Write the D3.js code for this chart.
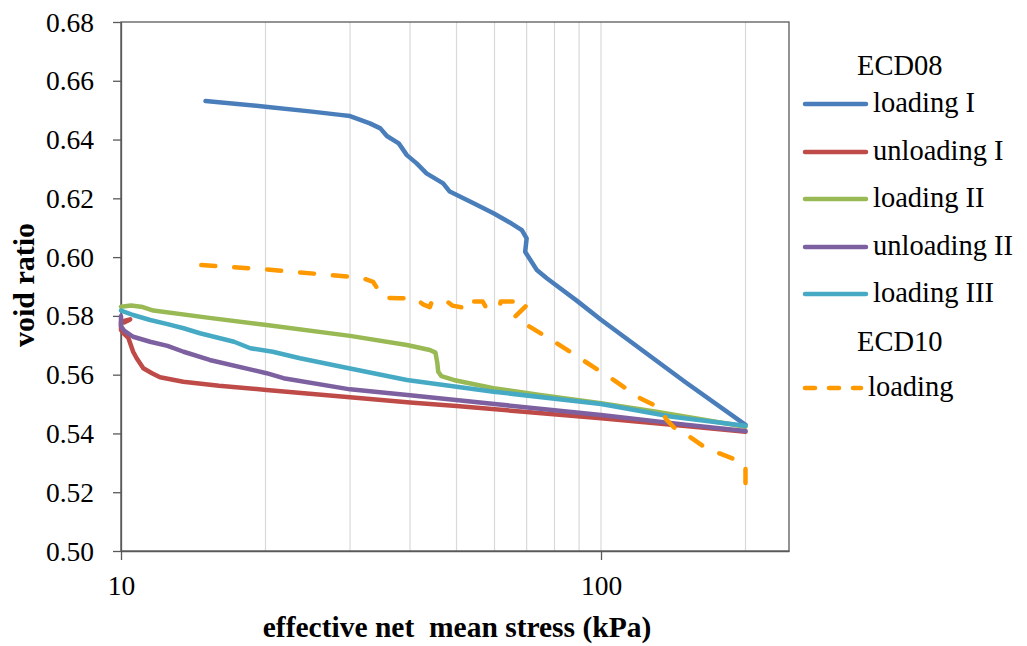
<!DOCTYPE html>
<html><head><meta charset="utf-8">
<script src="https://cdn.jsdelivr.net/npm/d3@7"></script>
<style>body{margin:0;background:#fff}svg{display:block}svg text{font-family:"Liberation Serif","Times New Roman",serif !important;fill:#000}</style>
</head><body><svg id="c" width="1027" height="646"></svg>
<script>
const yTicks = [0.50,0.52,0.54,0.56,0.58,0.60,0.62,0.64,0.66,0.68];
const xTickLabels = [10,100];
const xGrid = [10,20,30,40,50,60,70,80,90,100,200];
const seriesNames = ["loading I","unloading I","loading II","unloading II","loading III","loading"];
const groupNames = ["ECD08","ECD10"];
const colors = ["#4A7EBB","#BE4B48","#98B954","#7D60A0","#46AAC5","#FF9900"];

const loadingI = [[15,0.6531],[20,0.6512],[25,0.6495],[28.6,0.6484],[30,0.6480],[33,0.6455],[34.7,0.6438],[35.8,0.6412],[37.9,0.6387],[39.4,0.6347],[41.3,0.6319],[43.3,0.6285],[46.9,0.6251],[48.4,0.6223],[54,0.6185],[59.7,0.6149],[65,0.6115],[68.4,0.6092],[70.0,0.6064],[69.5,0.6018],[73.5,0.5956],[77.1,0.5928],[79.6,0.5911],[89.0,0.5852],[100,0.5787],[150,0.5574],[200,0.5429]];
const unloadingI = [[200,0.5406],[150,0.5425],[100,0.5452],[70,0.5473],[50,0.5493],[40,0.5505],[30,0.5523],[20.1,0.5548],[16,0.5562],[13.48,0.5576],[12.06,0.5591],[11.6,0.5605],[11.13,0.5622],[10.78,0.5656],[10.6,0.5678],[10.36,0.5725],[10.1,0.5742],[10,0.5752],[10,0.5780],[10.45,0.5788],[10.15,0.5778]];
const loadingII = [[10,0.5831],[10.5,0.5835],[11.1,0.5830],[11.68,0.5818],[15,0.5795],[20.1,0.5769],[30,0.5732],[39.4,0.5701],[44.0,0.5684],[45.2,0.5675],[45.6,0.5640],[45.8,0.5610],[46.5,0.5595],[49.3,0.5582],[59.7,0.5554],[74.6,0.5531],[100,0.5503],[130.4,0.5474],[200,0.5423]];
const unloadingII = [[200,0.5408],[150,0.5430],[100,0.5463],[60,0.5500],[40,0.5530],[30,0.5550],[21.8,0.5588],[20.1,0.5605],[15.3,0.5650],[13.5,0.5678],[12.5,0.5698],[11.5,0.5712],[10.6,0.5729],[10.15,0.5750],[10,0.5765],[10,0.5800]];
const loadingIII = [[10,0.5818],[10.6,0.5803],[11.5,0.5786],[12.5,0.5772],[13.5,0.5758],[14.6,0.5741],[17.2,0.5712],[18.6,0.5690],[20.7,0.5678],[23.6,0.5656],[30,0.5621],[39.4,0.5582],[59.7,0.5542],[100,0.5500],[140.7,0.5457],[200,0.5426]];
const ecd10Loading = [[14.7,0.5973],[20.1,0.5958],[30,0.5933],[31.5,0.5931],[33.5,0.5916],[34.3,0.5890],[35.2,0.5862],[38.1,0.5860],[41.0,0.5860],[42.7,0.5838],[44.0,0.5830],[44.4,0.5849],[47.8,0.5849],[49.0,0.5835],[52.4,0.5826],[52.6,0.5849],[56.7,0.5849],[57.4,0.5833],[61.4,0.5826],[61.8,0.5849],[66.2,0.5849],[67.8,0.5840],[70.4,0.5840],[66.0,0.5795],[80.9,0.5707],[106.2,0.5582],[120.6,0.5520],[132.8,0.5486],[137.0,0.5446],[143.6,0.5412],[152.9,0.5389],[165.5,0.5350],[176.6,0.5332],[191.3,0.5310],[200,0.5293],[200,0.5220]];
const allSeries = [loadingI,unloadingI,loadingII,unloadingII,loadingIII,ecd10Loading];

const L=121, R=789, T=22, B=551;
const FONT = "Liberation Serif, Times New Roman, serif";
const svg = d3.select("#c");
const x = d3.scaleLog().domain([10,246.4]).range([L,R]);
const y = d3.scaleLinear().domain([0.50,0.68]).range([B,T]);

// gridlines
svg.append("g").selectAll("line").data(xGrid).join("line")
  .attr("x1",d=>x(d)).attr("x2",d=>x(d)).attr("y1",T).attr("y2",B)
  .attr("stroke","#D9D9D9").attr("stroke-width",1.2);

// plot border
svg.append("rect").attr("x",L).attr("y",T).attr("width",R-L).attr("height",B-T)
  .attr("fill","none").attr("stroke","#595959").attr("stroke-width",1.3);

// y axis
const yAxis = d3.axisLeft(y).tickValues(yTicks).tickSize(8).tickSizeOuter(0).tickFormat(d3.format(".2f"));
const gy = svg.append("g").attr("transform",`translate(${L},0)`).call(yAxis).attr("font-family",FONT);
gy.select(".domain").attr("stroke","#595959").attr("stroke-width",1.3);
gy.selectAll(".tick line").attr("stroke","#595959").attr("stroke-width",1.3);
gy.selectAll(".tick text").attr("font-size",27.5).attr("x",-27).attr("dy","0.33em").attr("fill","#000");

// x axis
const xAxis = d3.axisBottom(x).tickValues(xTickLabels).tickSize(9).tickSizeOuter(0).tickFormat(d3.format("d"));
const gx = svg.append("g").attr("transform",`translate(0,${B})`).call(xAxis).attr("font-family",FONT);
gx.select(".domain").attr("stroke","#595959").attr("stroke-width",1.3);
gx.selectAll(".tick line").attr("stroke","#595959").attr("stroke-width",1.3);
gx.selectAll(".tick text").attr("font-size",27.5).attr("y",44).attr("dy",0).attr("fill","#000");

// lines
const lineL = d3.line().x(d=>x(d[0])).y(d=>y(d[1]));
allSeries.forEach((s,i)=>{
  svg.append("path").attr("d",lineL(s)).attr("fill","none")
    .attr("stroke",colors[i]).attr("stroke-width",4.5)
    .attr("stroke-linejoin","round").attr("stroke-linecap","round")
    .attr("stroke-dasharray", i===5 ? "14,19" : null);
});

// axis titles
svg.append("text").attr("x",457).attr("y",637).attr("text-anchor","middle").attr("font-family",FONT)
  .attr("font-size",29.5).attr("font-weight","bold").attr("xml:space","preserve")
  .style("white-space","pre").text("effective net  mean stress (kPa)");
svg.append("text").attr("transform","translate(34,285) rotate(-90)").attr("text-anchor","middle")
  .attr("font-family",FONT).attr("font-size",30).attr("font-weight","bold").text("void ratio");

// legend
const leg = svg.append("g").attr("font-family",FONT);
const legRows = [
  {t:groupNames[0], y:75, head:true},
  {t:seriesNames[0], y:104, i:0},
  {t:seriesNames[1], y:152, i:1},
  {t:seriesNames[2], y:199, i:2},
  {t:seriesNames[3], y:247, i:3},
  {t:seriesNames[4], y:294, i:4},
  {t:groupNames[1], y:351, head:true},
  {t:seriesNames[5], y:388, i:5}
];
legRows.forEach(r=>{
  if(r.head){
    leg.append("text").attr("x",857).attr("y",r.y).attr("font-size",28.5).text(r.t);
  } else {
    const dashed = r.i===5;
    leg.append("line").attr("x1",805).attr("x2",dashed?861:866).attr("y1",r.y).attr("y2",r.y)
      .attr("stroke",colors[r.i]).attr("stroke-width",4.5).attr("stroke-linecap","round")
      .attr("stroke-dasharray",dashed?"10,14":null);
    leg.append("text").attr("x",dashed?868:873).attr("y",r.y+8).attr("font-size",28.5).text(r.t);
  }
});
</script></body></html>
